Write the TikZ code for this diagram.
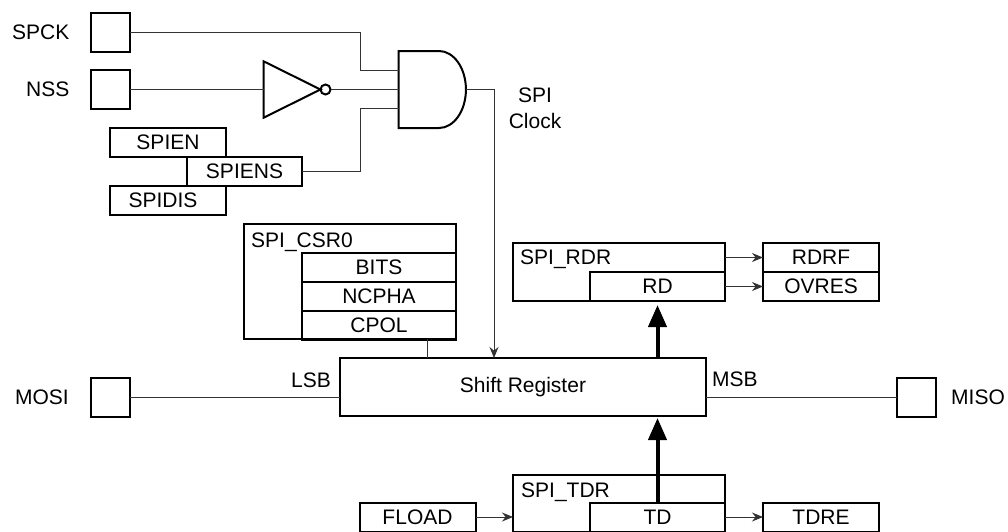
\documentclass[tikz,border=0pt]{standalone}
\usepackage{fontspec}
\setmainfont{Liberation Sans}
\usetikzlibrary{arrows.meta}
\usetikzlibrary{positioning, shapes.geometric, shapes.gates.logic.US}
\tikzset{
  wire/.style={line width=1pt, draw=black!80},
  sig/.style={wire, -{Stealth[length=11pt,width=9pt]}},
  bus/.style={line width=4pt, -{Stealth[length=22pt,width=18pt,inset=0pt]}},
  thickbox/.style={draw, line width=2pt, inner sep=0pt, outer sep=0pt},
  port/.style={thickbox, minimum width=39pt, minimum height=39pt},
  regbit/.style={thickbox, minimum height=29pt},
  regbox/.style={thickbox, anchor=north west},
  txt/.style={inner sep=0pt, font=\fontsize{21}{25}\selectfont},
}
\begin{document}
\begin{tikzpicture}[x=1pt, y=-1pt, font=\fontsize{21}{25}\selectfont]
  \useasboundingbox (0,0) rectangle (1008,531);

  % pins
  \node[port] (spck) at (110,32) {};
  \node[port, below=18.5pt of spck] (nss) {};
  \node[port] (mosi) at (110.5,397) {};
  \node[port] (miso) at (916.5,397) {};
  \node[txt, left=21pt of spck] {SPCK};
  \node[txt, left=21pt of nss] {NSS};
  \node[txt, left=22pt of mosi] {MOSI};
  \node[txt, right=15pt of miso] {MISO};

  % clock gating
  \node[thickbox, isosceles triangle, isosceles triangle stretches, minimum width=56.5pt, minimum height=57pt,
        anchor=lower side] (inv) at (263.5,89.5) {};
  \node[thickbox, circle, minimum size=10pt, right=0pt of inv.apex] (bubble) {};
  \node[thickbox, and gate US, logic gate inputs=nnn, logic gate input sep=19.2pt,
        minimum width=68pt, minimum height=77pt, xscale=.7, transform shape] (clkand) at (430,89.5) {};
  \node[regbit, minimum width=116pt] (spien) at (168,142) {SPIEN};
  \node[regbit, minimum width=115pt, below right=0pt and -39pt of spien] (spiens) {SPIENS};
  \node[regbit, minimum width=116pt, below left=0pt and -39pt of spiens] (spidis) {SPIDIS\kern10pt};
  \node[txt] (spilbl) at (535,95) {SPI};
  \node[txt, below=10pt of spilbl] (clklbl) {Clock};

  % shift register
  \node[thickbox, minimum width=366pt, minimum height=58pt] (shift) at (523,387) {Shift Register};
  \node[txt, anchor=east] (lsb) at (331,380) {LSB};
  \node[txt, anchor=west] (msb) at (712,379) {MSB};

  % mode register
  \node[regbox, minimum width=212pt, minimum height=115pt] (csr) at (244,224) {};
  \node[txt, below right=9pt and 7pt of csr.north west] (csrname) {SPI\_CSR0};
  \node[regbit, anchor=north west, minimum width=154pt] (bits) at (302,253) {BITS};
  \node[regbit, below=0pt of bits, minimum width=154pt] (ncpha) {NCPHA};
  \node[regbit, below=0pt of ncpha, minimum width=154pt] (cpol) {CPOL};

  % receive side
  \node[regbox, minimum width=212pt, minimum height=58pt] (rdr) at (513,243) {};
  \node[txt, below right=7pt and 7pt of rdr.north west] (rdrname) {SPI\_RDR};
  \node[regbit, anchor=south east, minimum width=135pt] (rd) at (rdr.south east) {RD};
  \node[regbit, anchor=north west, minimum width=116pt] (rdrf) at (763,243) {RDRF};
  \node[regbit, below=0pt of rdrf, minimum width=116pt] (ovres) {OVRES};

  % transmit side
  \node[regbox, minimum width=212pt, minimum height=57pt] (tdr) at (513,474.5) {};
  \node[txt, below right=8pt and 8pt of tdr.north west] (tdrname) {SPI\_TDR};
  \node[regbit, anchor=south east, minimum width=135pt] (td) at (tdr.south east) {TD};
  \node[regbit, anchor=north west, minimum width=116pt] (tdre) at (763,502.5) {TDRE};
  \node[regbit, anchor=north west, minimum width=116pt] (fload) at (359.5,502.5) {FLOAD};

  \draw[wire] (spck.east) -| ([xshift=-38.4pt]clkand.input 1) -- (clkand.input 1);
  \draw[wire] (nss.east) -- (inv.lower side);
  \draw[wire] (bubble.east) -- (clkand.input 2);
  \draw[wire] (spiens.east) -| ([xshift=-38.4pt]clkand.input 3) -- (clkand.input 3);
  \draw[sig] (clkand.output) -| ([xshift=-29pt]shift.north);
  \draw[wire] (mosi.east) -- (mosi.east -| shift.west);
  \draw[wire] (miso.west) -- (miso.west -| shift.east);
  \draw[wire] (csr.south -| 427,0) -- (shift.north -| 427,0);
  \draw[bus, shorten >=4pt] (shift.north -| rd.north) -- (rd.south);
  \draw[bus, shorten >=2pt] (td.north) -- (td.north |- shift.south);
  \draw[sig] (rdrf.west -| rdr.east) -- (rdrf.west);
  \draw[sig] (ovres.west -| rd.east) -- (ovres.west);
  \draw[sig] (fload.east) -- (fload.east -| tdr.west);
  \draw[sig] (tdre.west -| td.east) -- (tdre.west);
\end{tikzpicture}
\end{document}
